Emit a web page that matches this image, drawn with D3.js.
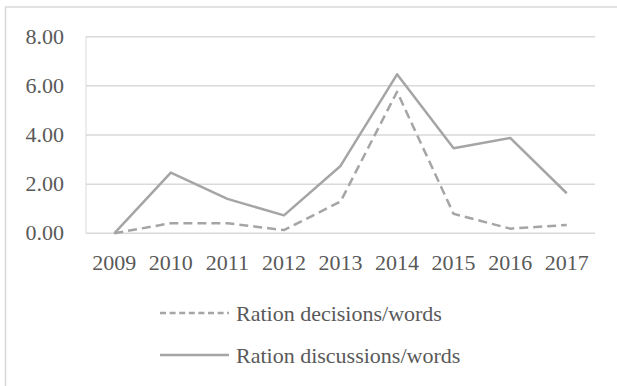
<!DOCTYPE html>
<html>
<head>
<meta charset="utf-8">
<script src="https://cdn.jsdelivr.net/npm/d3@7"></script>
<style>
  html, body { margin: 0; padding: 0; background: #fff; }
  svg { display: block; }
</style>
</head>
<body>
<svg id="chart" width="617" height="386"></svg>
<script>
// Yearly ratios
const years = ["2009", "2010", "2011", "2012", "2013", "2014", "2015", "2016", "2017"];
const decisions = [0.00, 0.41, 0.41, 0.13, 1.29, 5.76, 0.79, 0.19, 0.34];
const discussions = [0.00, 2.47, 1.40, 0.73, 2.74, 6.47, 3.46, 3.88, 1.63];
const yTicks = [0, 2, 4, 6, 8];
const seriesNames = ["Ration decisions/words", "Ration discussions/words"];

const svg = d3.select("#chart");
const W = 617, H = 386;
const plot = { left: 86, right: 595, top: 36.7, bottom: 233.3 };
const fontSize = 22;
const fontFamily = "'Liberation Serif', serif";
const textColor = "#595959";
const lineColor = "#a5a5a5";
const gridColor = "#d9d9d9";

// Outer chart frame (runs off the right and bottom edges)
svg.append("rect")
  .attr("x", 5.5).attr("y", 7)
  .attr("width", W + 10).attr("height", H + 10)
  .attr("fill", "none")
  .attr("stroke", gridColor)
  .attr("stroke-width", 1.5);

const x = d3.scaleBand().domain(years).range([plot.left, plot.right]).paddingInner(0).paddingOuter(0);
const y = d3.scaleLinear().domain([0, 8]).range([plot.bottom, plot.top]);

// Horizontal gridlines
svg.append("g")
  .selectAll("line")
  .data(yTicks)
  .join("line")
  .attr("x1", plot.left).attr("x2", plot.right)
  .attr("y1", d => y(d)).attr("y2", d => y(d))
  .attr("stroke", gridColor)
  .attr("stroke-width", 1.5);

// Left axis line
svg.append("line")
  .attr("x1", plot.left).attr("x2", plot.left)
  .attr("y1", y(8)).attr("y2", y(0))
  .attr("stroke", gridColor)
  .attr("stroke-width", 1);

// Y axis labels
const yAxis = d3.axisLeft(y).tickValues(yTicks).tickFormat(d3.format(".2f")).tickSize(0).tickPadding(22);
const gy = svg.append("g").attr("transform", `translate(${plot.left},0)`).call(yAxis);
gy.select(".domain").remove();
gy.selectAll("text")
  .attr("font-family", fontFamily)
  .attr("font-size", fontSize)
  .attr("fill", textColor)
  .attr("dy", "0.3em");

// X axis labels
const xAxis = d3.axisBottom(x).tickSize(0).tickPadding(21);
const gx = svg.append("g").attr("transform", `translate(0,${plot.bottom})`).call(xAxis);
gx.select(".domain").remove();
gx.selectAll("text")
  .attr("font-family", fontFamily)
  .attr("font-size", fontSize)
  .attr("fill", textColor);

const cx = d => x(d) + x.bandwidth() / 2;
const line = d3.line()
  .x((d, i) => cx(years[i]))
  .y(d => y(d));

// Discussions series (solid)
svg.append("path")
  .datum(discussions)
  .attr("d", line)
  .attr("fill", "none")
  .attr("stroke", lineColor)
  .attr("stroke-width", 2.5)
  .attr("stroke-linejoin", "round");

// Decisions series (dashed)
svg.append("path")
  .datum(decisions)
  .attr("d", line)
  .attr("fill", "none")
  .attr("stroke", lineColor)
  .attr("stroke-width", 2.5)
  .attr("stroke-dasharray", "9,5")
  .attr("stroke-linejoin", "round");

// Legend
const legend = svg.append("g");
const legendRows = [
  { name: seriesNames[0], dash: "6,3.6", y: 313 },
  { name: seriesNames[1], dash: null, y: 355 }
];
legendRows.forEach(r => {
  legend.append("line")
    .attr("x1", 160).attr("x2", 229)
    .attr("y1", r.y).attr("y2", r.y)
    .attr("stroke", lineColor)
    .attr("stroke-width", 2.5)
    .attr("stroke-dasharray", r.dash);
  legend.append("text")
    .attr("x", 236).attr("y", r.y)
    .attr("dy", "0.38em")
    .attr("font-family", fontFamily)
    .attr("font-size", fontSize)
    .attr("fill", textColor)
    .text(r.name);
});
</script>
</body>
</html>
